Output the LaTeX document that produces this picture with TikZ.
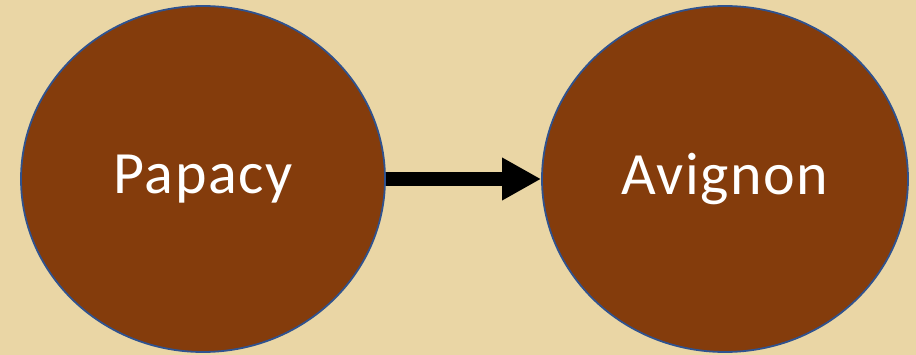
\documentclass[tikz,border=0pt]{standalone}
\usepackage{fontspec}
\setmainfont{Carlito}[LetterSpace=2.5]
\usetikzlibrary{shapes.geometric,arrows.meta}
\definecolor{bgtan}{HTML}{EAD6A5}
\definecolor{brownfill}{HTML}{843C0C}
\definecolor{blueedge}{HTML}{2F528F}
\tikzset{
  circnode/.style={ellipse, draw=blueedge, line width=1.8pt, fill=brownfill,
    minimum width=364pt, minimum height=346pt, inner sep=0pt,
    text=white, font=\fontsize{60}{66}\selectfont},
  bigarrow/.style={line width=14pt, -{Triangle[length=39pt,width=40pt]}}
}
\begin{document}
\begin{tikzpicture}[x=1pt,y=-1pt]
\fill[bgtan] (0,0) rectangle (916,355);
\useasboundingbox (0,0) rectangle (916,355);
\node[circnode] (p) at (203,179) {\raisebox{-3pt}{Papacy}};
\node[circnode, minimum width=366pt] (a) at (725,179) {\raisebox{-3pt}{Avignon}};
\draw[bigarrow] (p.east) -- (a.west);
\end{tikzpicture}
\end{document}
